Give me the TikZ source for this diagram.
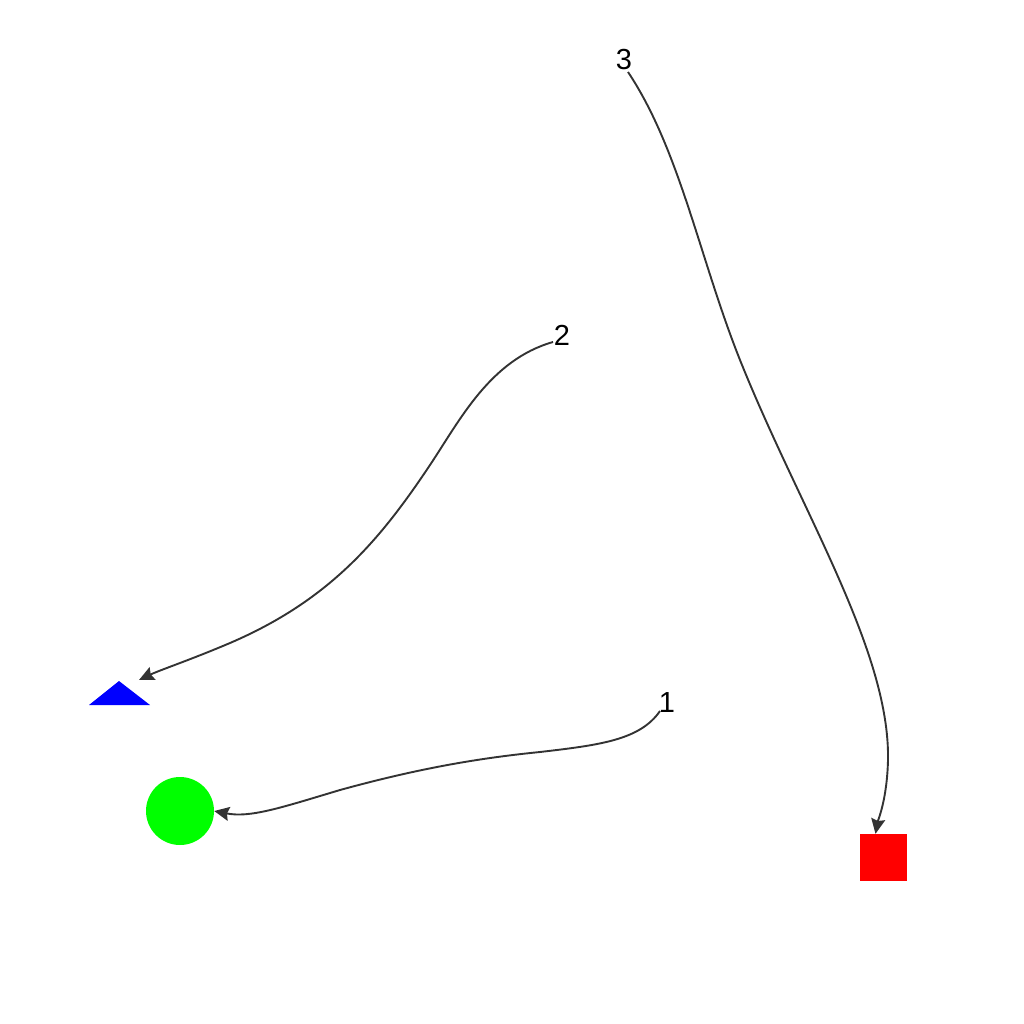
\documentclass[tikz,border=0pt]{standalone}
\usepackage{fontspec}
\setmainfont{Liberation Sans}
\usetikzlibrary{arrows.meta,calc}
\begin{document}
\begin{tikzpicture}[x=1pt,y=-1pt,
  lbl/.style={inner sep=0pt,font=\fontsize{29}{29}\selectfont},
  conn/.style={draw={rgb,255:red,51;green,51;blue,51},line width=1.9pt,
    -{Stealth[length=15pt,width=14pt,inset=2pt]}}]
\useasboundingbox (0,0) rectangle (1024,1024);
% shapes
\fill[blue] (89,705) -- (119,681) -- (150,705) -- cycle;
\coordinate (tri) at (139,680);
\node[circle,fill={rgb,255:red,0;green,255;blue,0},minimum size=68pt,inner sep=0pt] (circ) at (180,811) {};
\node[fill=red,minimum size=47pt,inner sep=0pt] (sq) at (883.5,857.5) {};
% labels
\node[lbl] (l3) at (624,60) {3};
\node[lbl] (l2) at (562,335) {2};
\node[lbl] (l1) at (667,703) {1};
\coordinate (s3) at (628,72);
\coordinate (s2) at (553,342);
\coordinate (s1) at (660,711);
% connectors
\draw[conn] (s3) .. controls (680,150) and (700,260) .. (740,360)
  .. controls (800,510) and (890,650) .. (888,760)
  .. controls (887,800) and (878,820) .. ($(sq.north)+(-8,0)$);
\draw[conn] (s2) .. controls (490,360) and (460,420) .. (430,465)
  .. controls (380,540) and (330,600) .. (230,643)
  .. controls (190,660) and (160,670) .. (tri);
\draw[conn] (s1) .. controls (640,740) and (600,745) .. (540,752)
  .. controls (480,758) and (420,768) .. (340,790)
  .. controls (280,808) and (250,818) .. (circ.east);
\end{tikzpicture}
\end{document}
